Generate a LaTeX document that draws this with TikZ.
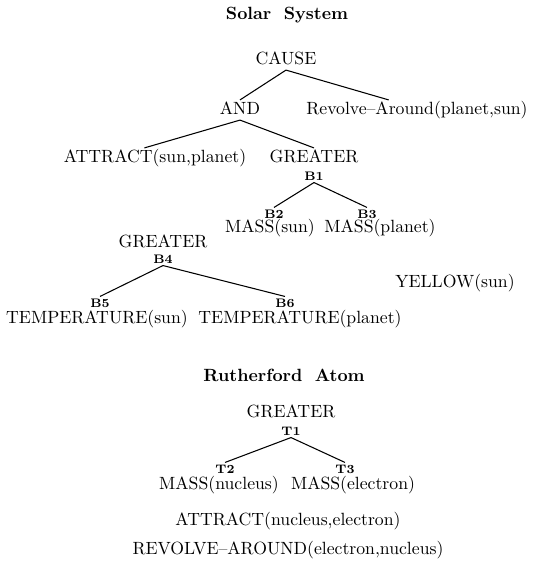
\documentclass[tikz,border=0pt]{standalone}
\begin{document}
\begin{tikzpicture}[x=0.565pt,y=-0.565pt,
  lab/.style={inner sep=0pt, font=\fontsize{10}{12}\selectfont, text height=7pt, text depth=2pt},
  tag/.style={inner sep=0pt, font=\scriptsize\bfseries, text height=5pt, text depth=0pt},
  ttl/.style={inner sep=0pt, font=\bfseries, text height=7pt, text depth=2pt},
  edge/.style={line width=0.6pt}]
\useasboundingbox (0,0) rectangle (535,570);
% Solar System
\node[ttl] (t1) at (287,15) {Solar\hspace{0.7em}System};
\node[lab] (cause) at (286,60) {CAUSE};
\node[lab] (and) at (240,110) {AND};
\node[lab] (rev) at (417,110) {Revolve--Around(planet,sun)};
\node[lab] (att) at (155,158) {ATTRACT(sun,planet)};
\node[lab] (g1) at (314,158) {GREATER};
\node[tag] (b1) at (314,176) {B1};
\node[tag] (b2) at (274,214) {B2};
\node[tag] (b3) at (367,214) {B3};
\node[lab] (ms) at (270,228) {MASS(sun)};
\node[lab] (mp) at (380,228) {MASS(planet)};
\node[lab] (g2) at (163,243) {GREATER};
\node[tag] (b4) at (163,259) {B4};
\node[lab] (yel) at (455,283) {YELLOW(sun)};
\node[tag] (b5) at (100,303) {B5};
\node[tag] (b6) at (285,303) {B6};
\node[lab] (ts) at (97,319) {TEMPERATURE(sun)};
\node[lab] (tp) at (300,319) {TEMPERATURE(planet)};
% Rutherford Atom
\node[ttl] (t2) at (284,377) {Rutherford\hspace{0.7em}Atom};
\node[lab] (g3) at (291,413) {GREATER};
\node[tag] (tt1) at (291,431) {T1};
\node[tag] (tt2) at (225,469) {T2};
\node[tag] (tt3) at (345,469) {T3};
\node[lab] (mn) at (219,485) {MASS(nucleus)};
\node[lab] (me) at (353,485) {MASS(electron)};
\node[lab] (att2) at (288,521) {ATTRACT(nucleus,electron)};
\node[lab] (rev2) at (288,550) {REVOLVE--AROUND(electron,nucleus)};
% edges
\draw[edge] ([yshift=-1pt]cause.south) -- ([yshift=1pt]and.north);
\draw[edge] ([yshift=-1pt]cause.south) -- ([xshift=-16pt,yshift=1pt]rev.north);
\draw[edge] ([yshift=-1pt]and.south) -- ([xshift=-6pt,yshift=1pt]att.north);
\draw[edge] ([yshift=-1pt]and.south) -- ([yshift=1pt]g1.north);
\draw[edge] ([yshift=-1pt]b1.south) -- ([yshift=1pt]b2.north);
\draw[edge] ([yshift=-1pt]b1.south) -- ([yshift=1pt]b3.north);
\draw[edge] ([yshift=-1pt]b4.south) -- ([yshift=1pt]b5.north);
\draw[edge] ([yshift=-1pt]b4.south) -- ([yshift=1pt]b6.north);
\draw[edge] ([yshift=-1pt]tt1.south) -- ([yshift=1pt]tt2.north);
\draw[edge] ([yshift=-1pt]tt1.south) -- ([yshift=1pt]tt3.north);
\end{tikzpicture}
\end{document}
